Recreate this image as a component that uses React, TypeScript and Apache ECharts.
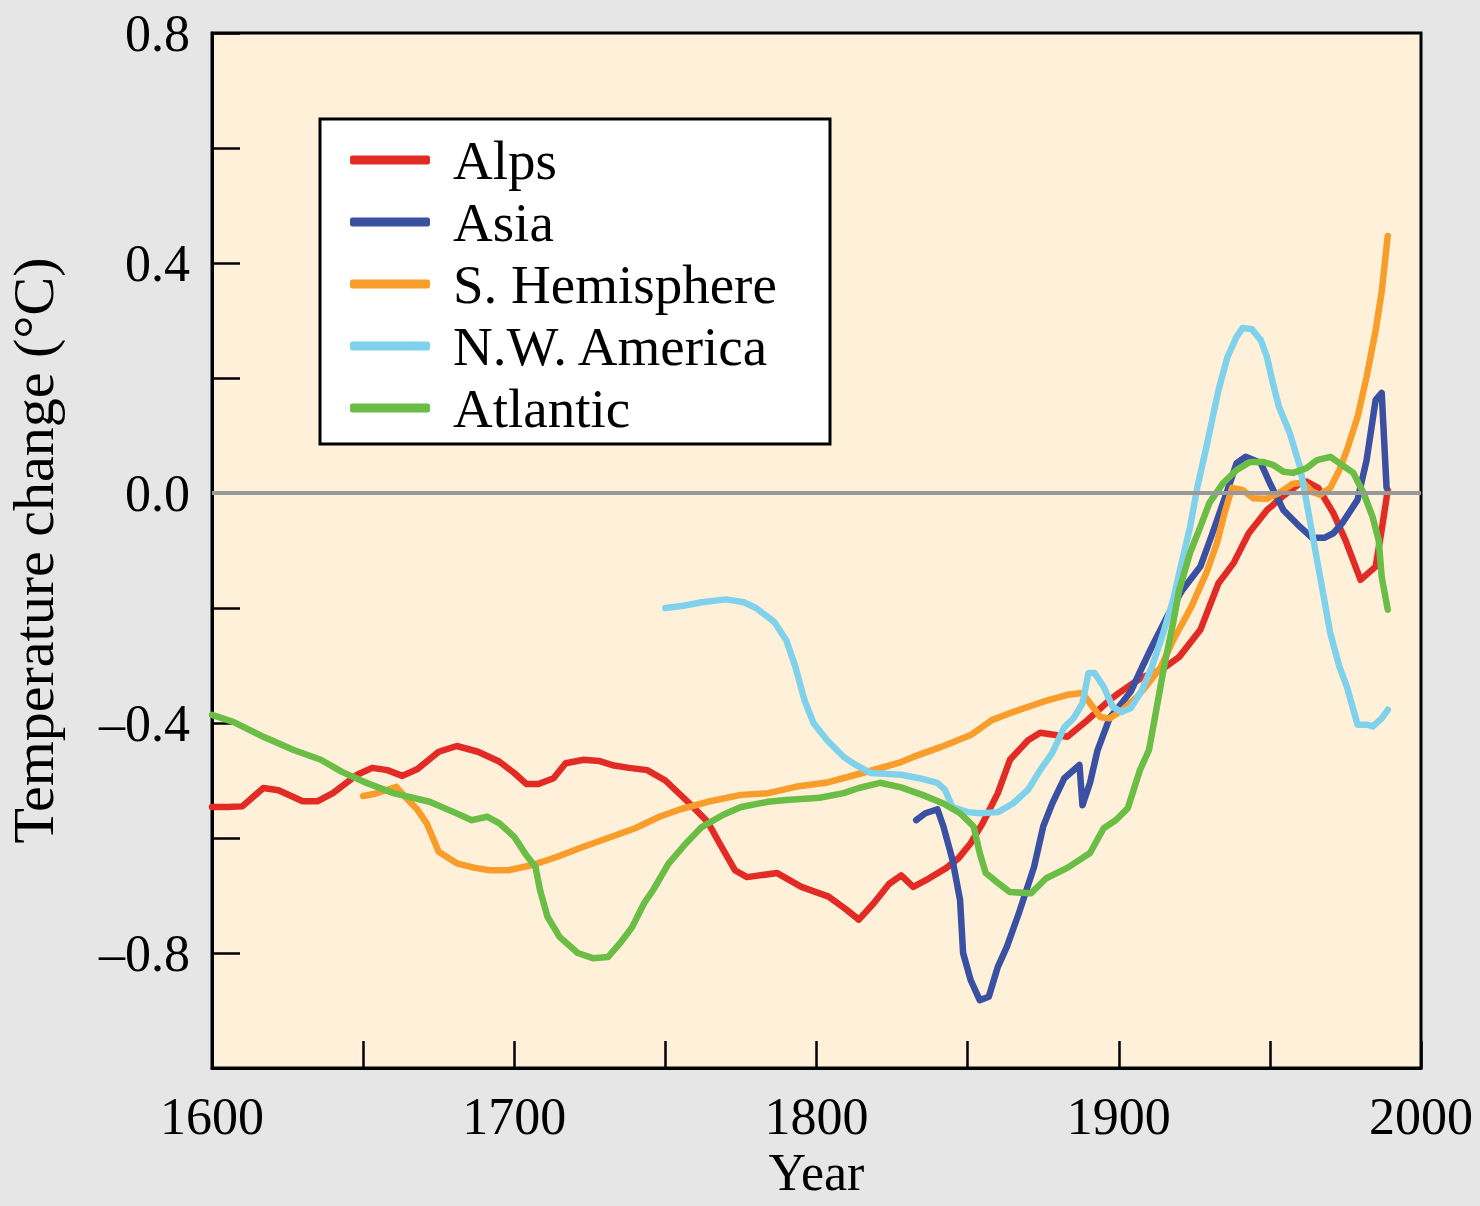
import React, { useEffect, useRef } from "react";
import * as echarts from "echarts";

const FONT = "'Liberation Serif', 'Times New Roman', serif";

const seriesNames = ["Alps", "Asia", "S. Hemisphere", "N.W. America", "Atlantic"];
const seriesColors = ["#E32B26", "#3A50A3", "#F99D2A", "#80D2EC", "#6ABD45"];

const alpsYears = [1600, 1605, 1610, 1617, 1622, 1630, 1635, 1640, 1648, 1653, 1658, 1663, 1668, 1675, 1681, 1688, 1695, 1700, 1704, 1708, 1713, 1717, 1723, 1728, 1733, 1738, 1744, 1750, 1758, 1764, 1768, 1773, 1777, 1787, 1795, 1804, 1810, 1814, 1819, 1824, 1828, 1832, 1837, 1843, 1847, 1851, 1855, 1860, 1864, 1870, 1874, 1883, 1889, 1897, 1900, 1905, 1908, 1914, 1920, 1927, 1933, 1938, 1943, 1949, 1954, 1960, 1962, 1966, 1971, 1975, 1980, 1985, 1987, 1989];
const alpsValues = [-0.546, -0.546, -0.545, -0.513, -0.517, -0.536, -0.536, -0.522, -0.49, -0.478, -0.482, -0.492, -0.48, -0.45, -0.44, -0.45, -0.467, -0.487, -0.506, -0.506, -0.496, -0.47, -0.464, -0.466, -0.474, -0.478, -0.482, -0.5, -0.54, -0.572, -0.61, -0.656, -0.668, -0.661, -0.685, -0.702, -0.725, -0.742, -0.713, -0.68, -0.665, -0.685, -0.671, -0.652, -0.635, -0.609, -0.574, -0.522, -0.464, -0.43, -0.417, -0.424, -0.398, -0.36, -0.348, -0.33, -0.32, -0.308, -0.285, -0.238, -0.157, -0.122, -0.07, -0.03, -0.007, 0.017, 0.02, 0.009, -0.035, -0.082, -0.151, -0.128, -0.064, 0.005];

const asiaYears = [1833, 1836, 1840, 1842, 1845, 1847.5, 1848.5, 1851, 1854, 1857, 1860, 1863, 1867, 1872, 1875, 1878, 1882, 1887, 1888, 1890.5, 1893, 1897, 1900, 1904, 1908, 1911, 1916, 1921, 1927, 1931, 1936, 1939, 1942, 1947, 1950, 1954.5, 1960, 1964, 1968, 1971, 1974, 1979, 1982, 1985, 1987, 1988.6];
const asiaValues = [-0.569, -0.557, -0.55, -0.58, -0.638, -0.708, -0.8, -0.847, -0.882, -0.876, -0.824, -0.789, -0.73, -0.65, -0.58, -0.54, -0.496, -0.473, -0.543, -0.504, -0.447, -0.391, -0.372, -0.345, -0.3, -0.267, -0.215, -0.169, -0.128, -0.07, 0.005, 0.052, 0.063, 0.052, 0.017, -0.03, -0.059, -0.078, -0.078, -0.07, -0.052, -0.012, 0.057, 0.162, 0.174, 0.01];

const shYears = [1650, 1654, 1661, 1664, 1668, 1671, 1675, 1681, 1687, 1692, 1698, 1706, 1714, 1722, 1731, 1740, 1748, 1755, 1764, 1775, 1784, 1793, 1804, 1813, 1820, 1828, 1832, 1841, 1851, 1858, 1865, 1875, 1883, 1888, 1891, 1894, 1897, 1901, 1906, 1908, 1914, 1918, 1924, 1929, 1932.5, 1935, 1937.5, 1941, 1944.5, 1949, 1953, 1957.6, 1961, 1964, 1966.6, 1970, 1973, 1975.5, 1979, 1982, 1985, 1987, 1989];
const shValues = [-0.527, -0.523, -0.511, -0.529, -0.551, -0.574, -0.624, -0.644, -0.652, -0.656, -0.656, -0.647, -0.633, -0.617, -0.6, -0.583, -0.563, -0.55, -0.537, -0.525, -0.522, -0.511, -0.503, -0.49, -0.48, -0.468, -0.459, -0.442, -0.421, -0.395, -0.381, -0.363, -0.351, -0.348, -0.369, -0.39, -0.392, -0.378, -0.355, -0.343, -0.302, -0.256, -0.198, -0.139, -0.087, -0.035, 0.009, 0.005, -0.009, -0.01, 0.0, 0.016, 0.018, 0.002, -0.003, 0.009, 0.04, 0.075, 0.132, 0.202, 0.283, 0.35, 0.447];

const nwaYears = [1750, 1756, 1762, 1770, 1776, 1780, 1786, 1790, 1793, 1796, 1799, 1803.5, 1809, 1813, 1818, 1828, 1834, 1840, 1842.5, 1845, 1850, 1854, 1860, 1865, 1870, 1874, 1878, 1882, 1885, 1888, 1890, 1892, 1895, 1898, 1901, 1904, 1907.5, 1911, 1914.7, 1918, 1921, 1923.6, 1926, 1929, 1933, 1936, 1939, 1941, 1944, 1947, 1949, 1951, 1953, 1956.6, 1960, 1962, 1964, 1967, 1970, 1973, 1975.5, 1979, 1982, 1984, 1987, 1989];
const nwaValues = [-0.2, -0.196, -0.19, -0.185, -0.19, -0.2, -0.224, -0.256, -0.302, -0.36, -0.4, -0.43, -0.459, -0.473, -0.487, -0.49, -0.496, -0.504, -0.516, -0.546, -0.555, -0.557, -0.555, -0.54, -0.516, -0.482, -0.452, -0.407, -0.392, -0.366, -0.313, -0.313, -0.337, -0.372, -0.381, -0.374, -0.345, -0.302, -0.244, -0.186, -0.117, -0.059, 0.01, 0.08, 0.179, 0.237, 0.272, 0.287, 0.285, 0.266, 0.237, 0.191, 0.15, 0.104, 0.045, -0.012, -0.07, -0.157, -0.244, -0.302, -0.337, -0.403, -0.403, -0.406, -0.392, -0.377];

const atlYears = [1600, 1607, 1617, 1627, 1636, 1643, 1651, 1660, 1672, 1680, 1686, 1691, 1695, 1700, 1704, 1707, 1708.5, 1711, 1715, 1721, 1726, 1731, 1735, 1739, 1743, 1746, 1751, 1756, 1762, 1769, 1775, 1784, 1790, 1801, 1809, 1814, 1821, 1828, 1835, 1842, 1847.5, 1852, 1854, 1856, 1860, 1864, 1871, 1876, 1883, 1890.5, 1895, 1899, 1903, 1907, 1910, 1912.6, 1915, 1918, 1920, 1923.6, 1927, 1930, 1934.5, 1939, 1943.4, 1947.7, 1951, 1954.5, 1957.7, 1962, 1965.6, 1970, 1973, 1977.6, 1981, 1984, 1986, 1987, 1989];
const atlValues = [-0.386, -0.398, -0.424, -0.447, -0.464, -0.485, -0.504, -0.522, -0.537, -0.555, -0.569, -0.563, -0.574, -0.598, -0.63, -0.65, -0.69, -0.737, -0.772, -0.8, -0.809, -0.807, -0.783, -0.755, -0.713, -0.69, -0.645, -0.614, -0.581, -0.56, -0.546, -0.537, -0.534, -0.53, -0.522, -0.513, -0.504, -0.512, -0.525, -0.54, -0.557, -0.58, -0.626, -0.661, -0.678, -0.694, -0.696, -0.67, -0.652, -0.626, -0.583, -0.569, -0.548, -0.482, -0.447, -0.372, -0.302, -0.226, -0.169, -0.104, -0.059, -0.017, 0.017, 0.04, 0.054, 0.054, 0.049, 0.037, 0.035, 0.043, 0.057, 0.063, 0.052, 0.035, 0.0, -0.042, -0.082, -0.146, -0.203];

const seriesYears = [alpsYears, asiaYears, shYears, nwaYears, atlYears];
const seriesValues = [alpsValues, asiaValues, shValues, nwaValues, atlValues];

export default function App() {
  const ref = useRef<HTMLDivElement>(null);

  useEffect(() => {
    if (!ref.current) return;
    const chart = echarts.init(ref.current, null, { renderer: "svg" });

    const lineSeries = seriesNames.map((name, i) => ({
      name,
      type: "line",
      data: seriesYears[i].map((y, j) => [y, seriesValues[i][j]]),
      showSymbol: false,
      symbol: "none",
      smooth: false,
      color: seriesColors[i],
      lineStyle: { color: seriesColors[i], width: 6.5, cap: "round", join: "round" },
      z: 3,
    }));

    chart.setOption({
      animation: false,
      backgroundColor: "#e6e6e6",
      textStyle: { fontFamily: FONT },
      grid: {
        left: 212,
        right: 59,
        top: 33,
        bottom: 138,
        containLabel: false,
        outerBoundsMode: "none",
        show: true,
        backgroundColor: "#fef0d9",
        borderColor: "#000",
        borderWidth: 3,
      },
      legend: {
        data: seriesNames,
        orient: "vertical",
        left: 320,
        top: 119,
        backgroundColor: "#ffffff",
        borderColor: "#000",
        borderWidth: 3,
        borderRadius: 0,
        padding: [13, 27, 8, 30],
        itemWidth: 80,
        itemHeight: 9,
        itemGap: 6,
        icon: "roundRect",
        textStyle: {
          fontFamily: FONT,
          fontSize: 55,
          color: "#000",
          lineHeight: 56,
          width: 350,
          padding: [0, 0, 0, 18],
        },
      },
      xAxis: {
        type: "value",
        min: 1600,
        max: 2000,
        interval: 50,
        name: "Year",
        nameLocation: "middle",
        nameGap: 78,
        nameTextStyle: { fontFamily: FONT, fontSize: 52, lineHeight: 52, color: "#000" },
        axisLine: { show: true, onZero: false, lineStyle: { color: "#000", width: 3 } },
        axisTick: { show: true, inside: true, length: 27, lineStyle: { color: "#000", width: 2.5 } },
        axisLabel: {
          fontFamily: FONT,
          fontSize: 52,
          color: "#000",
          margin: 22,
          formatter: (v: number) => (Math.round(v) % 100 === 0 ? String(Math.round(v)) : ""),
        },
        splitLine: { show: false },
      },
      yAxis: {
        type: "value",
        min: -1.0,
        max: 0.8,
        interval: 0.2,
        name: "Temperature change (°C)",
        nameLocation: "middle",
        nameRotate: 90,
        nameGap: 150,
        nameTextStyle: { fontFamily: FONT, fontSize: 58, color: "#000" },
        axisLine: { show: true, onZero: false, lineStyle: { color: "#000", width: 3 } },
        axisTick: { show: true, inside: true, length: 28, lineStyle: { color: "#000", width: 2.5 } },
        axisLabel: {
          fontFamily: FONT,
          fontSize: 52,
          color: "#000",
          margin: 22,
          formatter: (v: number) => {
            const k = Math.round(v * 10);
            if (k % 4 !== 0 || k === -10) return "";
            const s = Math.abs(v).toFixed(1);
            return v < -1e-9 ? "\u2013" + s : s;
          },
        },
        splitLine: { show: false },
      },
      series: [
        {
          name: "zero",
          type: "line",
          data: [],
          z: 1,
          silent: true,
          markLine: {
            silent: true,
            symbol: "none",
            label: { show: false },
            lineStyle: { color: "#999999", width: 4, type: "solid" },
            data: [{ yAxis: 0 }],
          },
        },
        ...lineSeries,
      ],
    });

    return () => chart.dispose();
  }, []);

  return (
    <div
      ref={ref}
      style={{ position: "fixed", left: 0, top: 0, width: 1480, height: 1206 }}
    />
  );
}
